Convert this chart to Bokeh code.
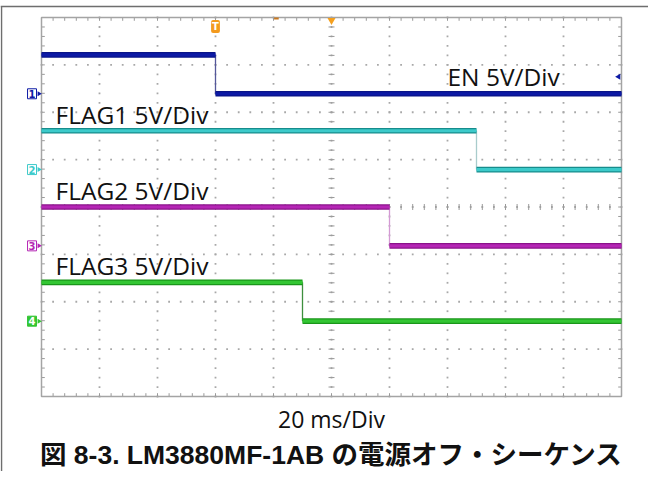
import numpy as np
from bokeh.plotting import figure
from bokeh.models import Label, Range1d, ColumnDataSource
from bokeh.embed import file_html
from bokeh.resources import INLINE

# ---------------- data ----------------
channels = ["EN", "FLAG1", "FLAG2", "FLAG3"]
channel_numbers = ["1", "2", "3", "4"]
label_texts = ["EN 5V/Div", "FLAG1 5V/Div", "FLAG2 5V/Div", "FLAG3 5V/Div"]
fall_time_ms = [60, 150, 120, 90]
high_level_v = [4.1, 4.1, 4.1, 4.1]
low_level_v = [0.0, 0.0, 0.0, 0.0]
offset_div = [2.39, 0.79, -0.82, -2.41]
volts_per_div = 5
ms_per_div = 20
n_hdiv = 10
n_vdiv = 8
trigger_time_ms = 60
trigger_level_v = 1.8
ref_marker_ms = 81
xlabel_text = "20 ms/Div"
caption_text = "図 8-3. LM3880MF-1AB の電源オフ・シーケンス"

# ---------------- layout / styles ----------------
W, H = 648, 471
GRID_LEFT, GRID_TOP, GRID_W, GRID_H = 41, 17, 580, 379
band_col = ["#0d1aa6", "#3ccaca", "#b526b5", "#33c633"]
edge_col = ["#0a1488", "#178c8c", "#8a128a", "#1a961a"]
step_col = ["#55589a", "#a9cccc", "#d49ad4", "#3e8f3e"]
grid_col = "#a8a8a8"
tick_col = "#9a9a9a"

t_end = n_hdiv * ms_per_div
y_half = n_vdiv / 2
px_per_ms = GRID_W / t_end
px_per_div = GRID_H / n_vdiv
y_center_px = GRID_TOP + GRID_H / 2
x0r = -GRID_LEFT / px_per_ms
x1r = (W - GRID_LEFT) / px_per_ms
y1r = y_center_px / px_per_div
y0r = (y_center_px - H) / px_per_div

def ydiv(px):
    return (y_center_px - px) / px_per_div

def xms(px):
    return (px - GRID_LEFT) / px_per_ms

p = figure(width=W, height=H,
           x_range=Range1d(x0r, x1r), y_range=Range1d(y0r, y1r),
           output_backend="svg", toolbar_location=None,
           x_axis_location=None, y_axis_location=None,
           min_border_left=0, min_border_right=0,
           min_border_top=0, min_border_bottom=0,
           outline_line_color=None,
           background_fill_color="white", border_fill_color="white")
p.grid.visible = False

# page frame lines (top and left)
p.segment(x0=[x0r], y0=[ydiv(6)], x1=[x1r], y1=[ydiv(6)], line_color="#6e6e6e", line_width=1.5)
p.segment(x0=[xms(1)], y0=[ydiv(6)], x1=[xms(1)], y1=[y0r], line_color="#6e6e6e", line_width=1.5)

# graticule dots
minor_t = ms_per_div / 5.0
minor_v = 0.2
hx, hy = [], []
xs = np.arange(0, t_end + 1e-9, minor_t)
ys = np.arange(-y_half, y_half + 1e-9, minor_v)
for yv in range(-int(y_half) + 1, int(y_half)):
    hx.extend(xs); hy.extend([yv] * len(xs))
for k in range(1, n_hdiv):
    hx.extend([k * ms_per_div] * len(ys)); hy.extend(ys)
p.scatter(hx, hy, marker="square", size=1.8, color=grid_col, line_color=None)

# center cross ticks
tc = t_end / 2
tick_ms = 3.0 / px_per_ms
tick_dv = 3.0 / px_per_div
p.segment(x0=[tc - tick_ms] * len(ys), y0=ys, x1=[tc + tick_ms] * len(ys), y1=ys,
          line_color=tick_col, line_width=1)
p.segment(x0=xs, y0=[-tick_dv] * len(xs), x1=xs, y1=[tick_dv] * len(xs),
          line_color=tick_col, line_width=1)

# edge ticks
p.segment(x0=xs, y0=[y_half] * len(xs), x1=xs, y1=[y_half - tick_dv * 1.1] * len(xs),
          line_color=tick_col, line_width=1)
p.segment(x0=xs, y0=[-y_half] * len(xs), x1=xs, y1=[-y_half + tick_dv * 1.1] * len(xs),
          line_color=tick_col, line_width=1)
p.segment(x0=[0] * len(ys), y0=ys, x1=[tick_ms * 1.1] * len(ys), y1=ys,
          line_color=tick_col, line_width=1)
p.segment(x0=[t_end - tick_ms * 1.1] * len(ys), y0=ys, x1=[t_end] * len(ys), y1=ys,
          line_color=tick_col, line_width=1)

# graticule outline
p.rect(x=[tc], y=[0], width=[t_end], height=[n_vdiv], fill_color=None,
       line_color="#a4a4a4", line_width=1.5)

# traces
for i in range(len(channels)):
    hi = offset_div[i] + high_level_v[i] / volts_per_div
    lo = offset_div[i] + low_level_v[i] / volts_per_div
    f = fall_time_ms[i]
    src = ColumnDataSource(dict(x0=[0, f], x1=[f, t_end], y=[hi, lo]))
    p.segment(x0=f, y0=lo, x1=f, y1=hi, line_color=step_col[i], line_width=1.3)
    p.segment(x0="x0", y0="y", x1="x1", y1="y", source=src,
              line_color=edge_col[i], line_width=5.7)
    p.segment(x0="x0", y0="y", x1="x1", y1="y", source=src,
              line_color=band_col[i], line_width=3.2)

    # channel marker on the left
    filled = (i == 3)
    p.add_layout(Label(x=0, y=offset_div[i], x_offset=-5, text=channel_numbers[i],
                       text_align="right", text_baseline="middle",
                       text_font="DejaVu Sans", text_font_size="10px",
                       text_font_style="bold",
                       text_color="white" if filled else band_col[i],
                       background_fill_color=band_col[i] if filled else "white",
                       border_line_color=band_col[i], padding=1))
    p.scatter([xms(38.5)], [offset_div[i]], marker="triangle", angle=-np.pi / 2,
              size=5, color=band_col[i], line_color=None)

    # channel text
    if i == 0:
        lx, ly = xms(447), lo + 0.37
    else:
        lx, ly = xms(55), hi + 0.345
    p.add_layout(Label(x=lx, y=ly, text=label_texts[i],
                       text_font="Open Sans", text_font_size="24.5px",
                       text_color="#111111", text_baseline="middle"))

# trigger markers
p.add_layout(Label(x=trigger_time_ms, y=ydiv(26), text="T", text_align="center",
                   text_baseline="middle", text_font="DejaVu Sans",
                   text_font_size="10px", text_font_style="bold",
                   text_color="white", background_fill_color="#f39a1e",
                   padding=1, border_radius=2))
p.scatter([tc], [y_half - 0.06], marker="inverted_triangle", size=8,
          color="#f5a01e", line_color=None)
p.segment(x0=[ref_marker_ms - 0.8], y0=[y_half - 0.02], x1=[ref_marker_ms + 0.8],
          y1=[y_half - 0.02], line_color="#c87820", line_width=2)
p.scatter([t_end - 1.0], [offset_div[0] + trigger_level_v / volts_per_div],
          marker="triangle", angle=np.pi / 2, size=6, color=band_col[0],
          line_color=None)

# bottom texts
p.add_layout(Label(x=tc, y=ydiv(418), text=xlabel_text, text_align="center",
                   text_baseline="middle",
                   text_font="Open Sans", text_font_size="23px",
                   text_color="#111111"))
p.add_layout(Label(x=tc, y=ydiv(454), text=caption_text, text_align="center",
                   text_baseline="middle",
                   text_font="Liberation Sans, Noto Sans CJK JP",
                   text_font_size="26.5px", text_font_style="bold",
                   text_color="#111111"))

open("out.html", "w").write(file_html(p, INLINE))
